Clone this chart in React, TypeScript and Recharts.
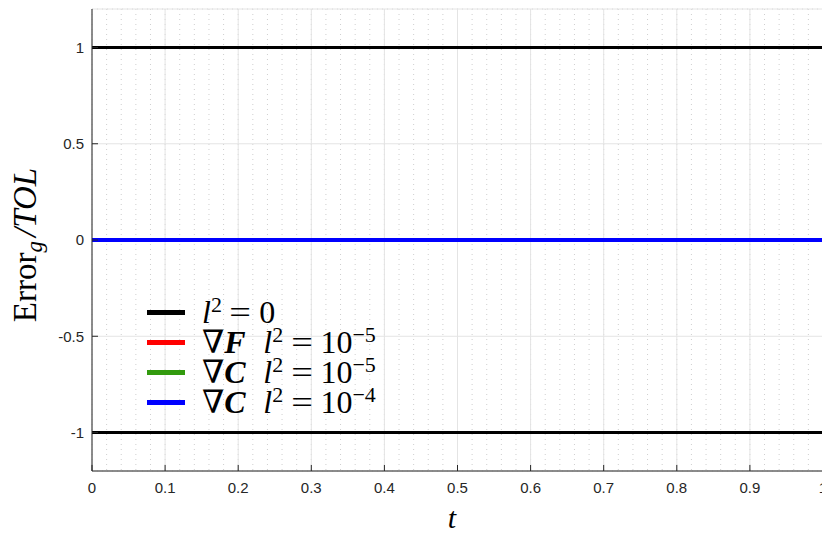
import React from "react";
import { LineChart, Line, XAxis, YAxis, CartesianGrid } from "recharts";

// time axis (only two samples needed, every curve is flat)
const tValues = [0, 1];

// normalised error curves
const tolUpper = [1, 1];
const tolLower = [-1, -1];
const errL0 = [0, 0];
const errGradF5 = [0, 0];
const errGradC5 = [0, 0];
const errGradC4 = [0, 0];

const xTicks = [0, 0.1, 0.2, 0.3, 0.4, 0.5, 0.6, 0.7, 0.8, 0.9, 1];
const xTickLabels = ["0", "0.1", "0.2", "0.3", "0.4", "0.5", "0.6", "0.7", "0.8", "0.9", "1"];
const yTicks = [-1, -0.5, 0, 0.5, 1];
const yTickLabels = ["-1", "-0.5", "0", "0.5", "1"];

const xMinorTicks = [
    0, 0.02, 0.04, 0.06, 0.08, 0.1, 0.12, 0.14, 0.16, 0.18, 0.2, 0.22, 0.24, 0.26, 0.28, 0.3, 0.32,
    0.34, 0.36, 0.38, 0.4, 0.42, 0.44, 0.46, 0.48, 0.5, 0.52, 0.54, 0.56, 0.58, 0.6, 0.62, 0.64,
    0.66, 0.68, 0.7, 0.72, 0.74, 0.76, 0.78, 0.8, 0.82, 0.84, 0.86, 0.88, 0.9, 0.92, 0.94, 0.96,
    0.98, 1,
];
const yMinorTicks = [
    -1.2, -1.1, -1, -0.9, -0.8, -0.7, -0.6, -0.5, -0.4, -0.3, -0.2, -0.1, 0, 0.1, 0.2, 0.3, 0.4,
    0.5, 0.6, 0.7, 0.8, 0.9, 1, 1.1, 1.2,
];

const data = tValues.map((t, i) => ({
    t,
    upper: tolUpper[i],
    lower: tolLower[i],
    l0: errL0[i],
    gradF5: errGradF5[i],
    gradC5: errGradC5[i],
    gradC4: errGradC4[i],
}));

const SERIF = "'Liberation Serif', 'DejaVu Serif', serif";
const SANS = "'Liberation Sans', Arial, sans-serif";
const AXIS = "#262626";

const Sup = ({ children }: { children: React.ReactNode }) => (
    <sup style={{ fontSize: 22, verticalAlign: "0.5em", lineHeight: 0 }}>{children}</sup>
);
const L2 = () => (
    <>
        <i>l</i>
        <Sup>2</Sup>
    </>
);
const Eq = () => (
    <span style={{ display: "inline-block", margin: "0 0.3em", transform: "scaleX(1.2)" }}>=</span>
);
const Grad = ({ v }: { v: string }) => (
    <span style={{ marginRight: "0.55em" }}>
        ∇<b><i>{v}</i></b>
    </span>
);

const legendItems = [
    { key: "l0", color: "#000000", label: <><L2 /><Eq />0</> },
    { key: "gradF5", color: "#ff0000", label: <><Grad v="F" /><L2 /><Eq />10<Sup>−5</Sup></> },
    { key: "gradC5", color: "#329a0e", label: <><Grad v="C" /><L2 /><Eq />10<Sup>−5</Sup></> },
    { key: "gradC4", color: "#0000ff", label: <><Grad v="C" /><L2 /><Eq />10<Sup>−4</Sup></> },
];

const LegendBox = () => (
    <div style={{ position: "absolute", left: 147, top: 297, fontFamily: SERIF, fontSize: 32, color: "#000" }}>
        {legendItems.map((it) => (
            <div key={it.key} style={{ display: "flex", alignItems: "center", height: 30 }}>
                <div style={{ width: 38, height: 5, background: it.color, marginRight: 17 }} />
                <span style={{ whiteSpace: "nowrap", lineHeight: "30px", height: 30 }}>{it.label}</span>
            </div>
        ))}
    </div>
);

const BottomTick = (props: any) => {
    const { x, y, index } = props;
    return (
        <g>
            <line x1={x} x2={x} y1={y} y2={y - 6} stroke={AXIS} strokeWidth={1} />
            <text x={x} y={y + 22} textAnchor="middle" fontFamily={SANS} fontSize={15} fill={AXIS}>
                {xTickLabels[index]}
            </text>
        </g>
    );
};

const TopTick = (props: any) => {
    const { x, y } = props;
    return <line x1={x} x2={x} y1={y} y2={y + 6} stroke={AXIS} strokeWidth={1} />;
};

const LeftTick = (props: any) => {
    const { x, y, index } = props;
    return (
        <g>
            <line x1={x} x2={x + 6} y1={y} y2={y} stroke={AXIS} strokeWidth={1} />
            <text x={x - 8} y={y} dy="0.35em" textAnchor="end" fontFamily={SANS} fontSize={15} fill={AXIS}>
                {yTickLabels[index]}
            </text>
        </g>
    );
};

const YLabel = () => (
    <text transform="translate(36,245) rotate(-90)" textAnchor="middle" fontFamily={SERIF} fontSize={33} fill="#000">
        <tspan>Error</tspan>
        <tspan fontStyle="italic" fontSize={23} dy={6}>g</tspan>
        <tspan fontStyle="italic" dy={-6} dx={4}>/TOL</tspan>
    </text>
);

const XLabel = () => (
    <text x={452} y={528} textAnchor="middle" fontFamily={SERIF} fontStyle="italic" fontSize={30} fill="#000">
        t
    </text>
);

export default function App() {
    return (
        <div style={{ position: "fixed", left: 0, top: 0, width: 822, height: 534, overflow: "hidden", background: "#fff" }}>
            <LineChart width={840} height={534} data={data} margin={{ top: 9, right: 17, bottom: 0, left: 0 }}>
                {/* minor dotted grid */}
                <XAxis xAxisId="minor" dataKey="t" type="number" domain={[0, 1]} ticks={xMinorTicks} interval={0} hide />
                <YAxis yAxisId="minor" type="number" domain={[-1.2, 1.2]} ticks={yMinorTicks} interval={0} hide />
                <CartesianGrid xAxisId="minor" yAxisId="minor" stroke="#cfcfcf" strokeDasharray="1 4" />
                {/* major grid */}
                <CartesianGrid stroke="#e4e4e4" />

                <XAxis
                    dataKey="t"
                    type="number"
                    domain={[0, 1]}
                    ticks={xTicks}
                    interval={0}
                    height={63}
                    tickSize={0}
                    tickMargin={0}
                    axisLine={{ stroke: AXIS }}
                    tick={<BottomTick />}
                    label={<XLabel />}
                />
                <XAxis
                    xAxisId="top"
                    orientation="top"
                    dataKey="t"
                    type="number"
                    domain={[0, 1]}
                    ticks={xTicks}
                    interval={0}
                    height={0}
                    tickSize={0}
                    tickMargin={0}
                    axisLine={{ stroke: AXIS }}
                    tick={<TopTick />}
                />
                <YAxis
                    type="number"
                    domain={[-1.2, 1.2]}
                    ticks={yTicks}
                    interval={0}
                    width={92}
                    tickSize={0}
                    tickMargin={0}
                    axisLine={{ stroke: AXIS }}
                    tick={<LeftTick />}
                    label={<YLabel />}
                />

                <Line dataKey="upper" stroke="#000" strokeWidth={3} dot={false} isAnimationActive={false} />
                <Line dataKey="lower" stroke="#000" strokeWidth={3} dot={false} isAnimationActive={false} />
                <Line dataKey="l0" stroke="#000" strokeWidth={4} dot={false} isAnimationActive={false} />
                <Line dataKey="gradF5" stroke="#ff0000" strokeWidth={4} dot={false} isAnimationActive={false} />
                <Line dataKey="gradC5" stroke="#329a0e" strokeWidth={4} dot={false} isAnimationActive={false} />
                <Line dataKey="gradC4" stroke="#0000ff" strokeWidth={4} dot={false} isAnimationActive={false} />
            </LineChart>
            <LegendBox />
        </div>
    );
}
